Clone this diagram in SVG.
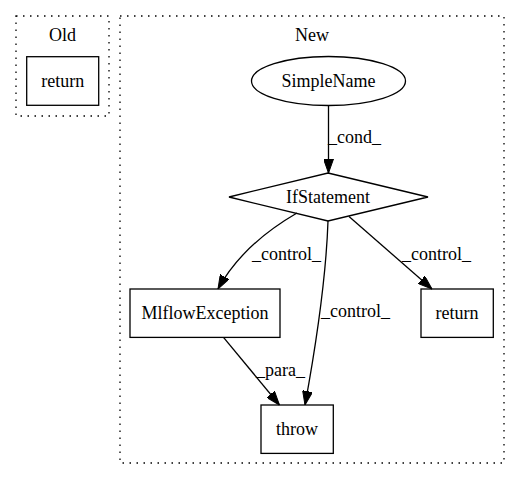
<svg xmlns="http://www.w3.org/2000/svg" width="520" height="480" viewBox="0 0 520 480">
<defs>
<style>
text{font-family:"Liberation Serif","Times New Roman",serif;font-size:18px;fill:#000}
.c{text-anchor:middle}
.cl{fill:none;stroke:#000;stroke-width:1.3;stroke-dasharray:1.5,5.5}
.n{fill:#fff;stroke:#000;stroke-width:1.3}
.e{fill:none;stroke:#000;stroke-width:1.3}
</style>
<marker id="ah" viewBox="0 0 14 10" refX="14" refY="5" markerWidth="14" markerHeight="10" markerUnits="userSpaceOnUse" orient="auto">
<path d="M0,0 L14,5 L0,10 Z" fill="#000" stroke="#000"/>
</marker>
</defs>
<rect width="520" height="480" fill="#fff"/>
<g id="cluster_old">
<rect class="cl" x="16" y="16" width="93" height="100"/>
<text class="c" x="62.5" y="41">Old</text>
</g>
<g id="cluster_new">
<rect class="cl" x="120" y="16" width="384" height="447"/>
<text class="c" x="312" y="41">New</text>
</g>
<g id="old_return">
<rect class="n" x="26.7" y="56.7" width="72" height="48.6"/>
<text class="c" x="62.7" y="87">return</text>
</g>
<g id="SimpleName">
<ellipse class="n" cx="328.5" cy="81" rx="77" ry="24.5"/>
<text class="c" x="328.5" y="87">SimpleName</text>
</g>
<g id="IfStatement">
<polygon class="n" points="328,173 428,197 328,221 229,197"/>
<text class="c" x="328" y="203">IfStatement</text>
</g>
<g id="MlflowException">
<rect class="n" x="130" y="289" width="150" height="48.4"/>
<text class="c" x="205" y="319">MlflowException</text>
</g>
<g id="new_return">
<rect class="n" x="421" y="289" width="72.3" height="48.4"/>
<text class="c" x="457" y="319">return</text>
</g>
<g id="throw">
<rect class="n" x="261" y="405" width="72.3" height="48.4"/>
<text class="c" x="297" y="435">throw</text>
</g>
<g id="connectors">
<path class="e" d="M328.5,105.5 L328.5,173" marker-end="url(#ah)"/>
<text x="328" y="143">_cond_</text>
<path class="e" d="M297,213 C266,231 236,256 218,289" marker-end="url(#ah)"/>
<text x="252" y="260">_control_</text>
<path class="e" d="M328,221 C326,280 316,345 305,405" marker-end="url(#ah)"/>
<text x="321" y="317">_control_</text>
<path class="e" d="M349,216.5 L432,289" marker-end="url(#ah)"/>
<text x="402" y="260">_control_</text>
<path class="e" d="M223.5,337.4 L279.5,405" marker-end="url(#ah)"/>
<text x="256" y="376">_para_</text>
</g>
</svg>
